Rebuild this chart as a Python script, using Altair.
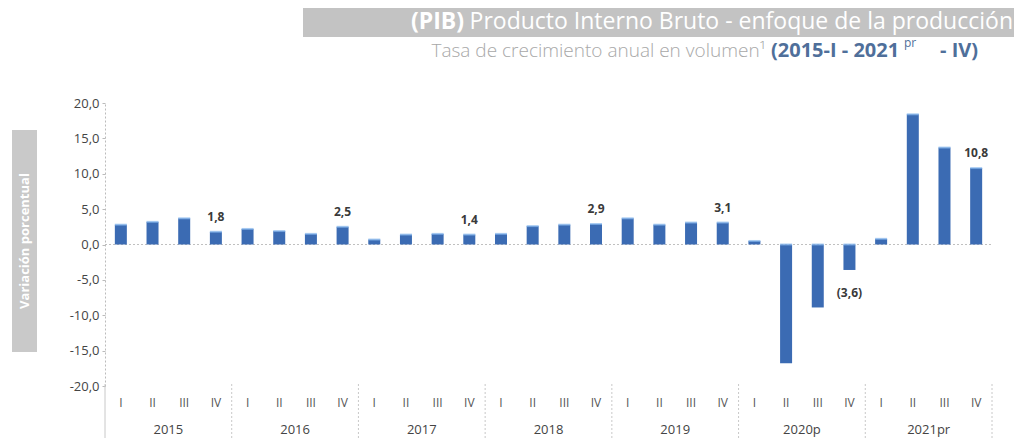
import altair as alt
import pandas as pd

years = ["2015", "2016", "2017", "2018", "2019", "2020p", "2021pr"]
quarters = ["I", "II", "III", "IV"]
values = [2.8, 3.2, 3.7, 1.8,
          2.2, 1.9, 1.5, 2.5,
          0.7, 1.4, 1.5, 1.4,
          1.5, 2.6, 2.8, 2.9,
          3.7, 2.8, 3.1, 3.1,
          0.5, -16.8, -8.9, -3.6,
          0.8, 18.4, 13.7, 10.8]
labelled_quarter = "IV"
y_ticks = [-20, -15, -10, -5, 0, 5, 10, 15, 20]

rows = []
i = 0
for y in years:
    for q in quarters:
        v = values[i]
        i += 1
        if q == labelled_quarter:
            s = f"{abs(v):.1f}".replace(".", ",")
            lab = f"({s})" if v < 0 else s
        else:
            lab = ""
        rows.append({"key": f"{y}-{q}", "year": y, "q": q, "v": v,
                     "cap": max(v, 0.0), "lab": lab, "neg": v < 0})
df = pd.DataFrame(rows)
order = list(df["key"])

W, H = 887, 283
FONT = "Open Sans"

xs = alt.Scale(domain=order, paddingInner=0, paddingOuter=0)
ys = alt.Scale(domain=[-20, 20], nice=False)

x_axis = alt.Axis(title=None, labelExpr="split(datum.value, '-')[1]",
                  labelAngle=0, ticks=False, domain=False,
                  labelPadding=11, labelFontSize=12, labelColor="#555",
                  labelFont=FONT)
y_axis = alt.Axis(title=None, values=y_ticks, labelOverlap=False,
                  labelExpr="replace(replace(format(datum.value, '.1f'), '.', ','), '−', '-')",
                  grid=False, domainColor="#bbb", domainDash=[2, 2],
                  tickColor="#bbb", tickSize=3, labelPadding=3,
                  labelFontSize=13, labelColor="#444", labelFont=FONT)


def X(**kw):
    return alt.X("key:N", sort=order, scale=xs, axis=x_axis, **kw)


def Y(field):
    return alt.Y(field, scale=ys, axis=y_axis)


base = alt.Chart(df)

bars = base.mark_bar(size=12, color="#3b6bb3").encode(x=X(), y=Y("v:Q"), y2=alt.datum(0))

caps = base.mark_tick(size=12, thickness=2, color="#86b6ec").encode(x=X(), y=Y("cap:Q"))

zero = alt.Chart(pd.DataFrame({"z": [0]})).mark_rule(color="#c0c0c0", strokeDash=[2, 2]).encode(
    y=Y("z:Q"), x=alt.value(0), x2=alt.value(W))

pos_lab = base.transform_filter("datum.lab != '' && !datum.neg").mark_text(
    dy=-15, fontSize=12, fontWeight="bold", color="#3a3a3a", font=FONT).encode(
    x=X(), y=Y("v:Q"), text="lab:N")
neg_lab = base.transform_filter("datum.lab != '' && datum.neg").mark_text(
    dy=23, fontSize=12, fontWeight="bold", color="#3a3a3a", font=FONT).encode(
    x=X(), y=Y("v:Q"), text="lab:N")

yr = pd.DataFrame({"key": [f"{y}-II" for y in years], "year": years})
year_lab = alt.Chart(yr).mark_text(fontSize=13, color="#444", font=FONT).encode(
    x=X(bandPosition=1), y=alt.value(H + 44), text="year:N")

sep = pd.DataFrame({"key": [f"{y}-I" for y in years]})
seps = alt.Chart(sep).mark_rule(color="#c8c8c8", strokeDash=[2, 2]).encode(
    x=X(bandPosition=0), y=alt.value(H - 2), y2=alt.value(H + 60))
one = pd.DataFrame({"a": [1]})
sep_end = alt.Chart(one).mark_rule(color="#c8c8c8", strokeDash=[2, 2]).encode(
    x=alt.value(W), y=alt.value(H - 2), y2=alt.value(H + 60))
yline_ext = alt.Chart(one).mark_rule(color="#c8c8c8", strokeDash=[2, 2]).encode(
    x=alt.value(0), y=alt.value(H), y2=alt.value(H + 60))

# y-axis title box
ybox = alt.Chart(one).mark_rect(color="#c9c9c9").encode(
    x=alt.value(-93), x2=alt.value(-68), y=alt.value(27), y2=alt.value(249))
ytitle = alt.Chart(one).mark_text(text="Variación porcentual", angle=270, color="white",
                                  fontSize=13, fontWeight="bold", font=FONT).encode(
    x=alt.value(-80.5), y=alt.value(138))

# title box and texts
tbox = alt.Chart(one).mark_rect(color="#c3c3c3").encode(
    x=alt.value(198), x2=alt.value(W + 22), y=alt.value(-95), y2=alt.value(-66))
t1 = alt.Chart(one).mark_text(text="(PIB)", color="white", fontSize=23, fontWeight="bold",
                              align="right", baseline="middle", font=FONT).encode(
    x=alt.value(359), y=alt.value(-81))
t2 = alt.Chart(one).mark_text(text="Producto Interno Bruto  - enfoque de la producción",
                              color="white", fontSize=23, align="right", baseline="middle",
                              font=FONT).encode(x=alt.value(908), y=alt.value(-81))
s1 = alt.Chart(one).mark_text(text="Tasa de crecimiento anual en volumen¹", color="#a8a8a8",
                              fontSize=19, fontWeight=300, align="right", baseline="middle",
                              font=FONT).encode(x=alt.value(661), y=alt.value(-52))
s2 = alt.Chart(one).mark_text(text="(2015-I - 2021", color="#4f6f9a", fontSize=20,
                              fontWeight="bold", align="left", baseline="middle",
                              font=FONT).encode(x=alt.value(666), y=alt.value(-52))
s3 = alt.Chart(one).mark_text(text="pr", color="#4f6f9a", fontSize=12,
                              align="left", baseline="middle", font=FONT).encode(
    x=alt.value(799), y=alt.value(-60))
s4 = alt.Chart(one).mark_text(text="- IV)", color="#4f6f9a", fontSize=20, fontWeight="bold",
                              align="left", baseline="middle", font=FONT).encode(
    x=alt.value(835), y=alt.value(-52))

chart = alt.layer(
    seps, sep_end, yline_ext, zero, bars, caps, pos_lab, neg_lab, year_lab,
    ybox, ytitle, tbox, t1, t2, s1, s2, s3, s4
).properties(
    width=W, height=H,
    autosize=alt.AutoSizeParams(type="none"),
    padding={"left": 97, "top": 95, "right": 22, "bottom": 52},
    background="white",
).configure_view(strokeWidth=0)

chart.save("out.html", embed_options={"renderer": "svg", "actions": False})
